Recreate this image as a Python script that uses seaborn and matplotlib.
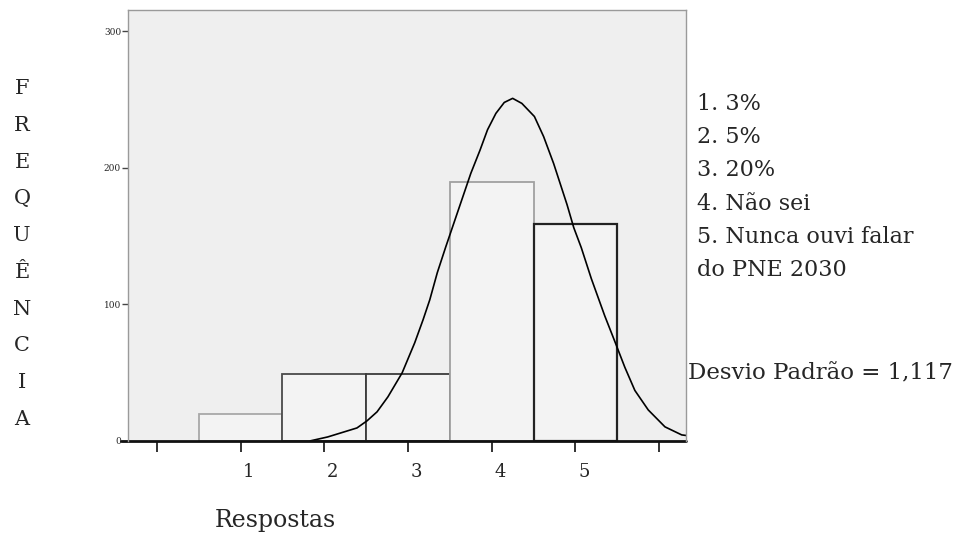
import numpy as np
import pandas as pd
import seaborn as sns
import matplotlib
matplotlib.use('Agg')
import matplotlib.pyplot as plt
from matplotlib.transforms import ScaledTranslation

# respostas (1..5) e frequencias
respostas = [1, 2, 3, 4, 5]
frequencias = [20, 49, 49, 190, 159]

# curva normal desenhada por cima
curva_x = [1.83, 2.04, 2.39, 2.51, 2.63, 2.76, 2.93, 3.08, 3.18, 3.26, 3.35,
           3.45, 3.55, 3.65, 3.75, 3.86, 3.95, 4.05, 4.15, 4.25, 4.36, 4.51,
           4.62, 4.74, 4.90, 4.98, 5.07, 5.19, 5.35, 5.47, 5.59, 5.71, 5.87,
           6.07, 6.27, 6.36]
curva_y = [0, 2.9, 9.5, 14.7, 21.3, 32.3, 49.9, 71.9, 88.8, 103.4, 123.3,
           142, 160, 178, 196, 213, 228, 240, 248, 251, 247.3, 237.7,
           223, 203.2, 173.1, 156.3, 141.6, 118.9, 91.7, 73, 54, 37, 22.7,
           10.3, 4.4, 3.7]

x_ticks = [0, 1, 2, 3, 4, 5, 6]
x_labels = ['', '1', '2', '3', '4', '5', '']
y_ticks = [0, 100, 200, 300]
y_labels = ['0', '100', '200', '300']

legenda = ['1. 3%', '2. 5%', '3. 20%', '4. Não sei',
           '5. Nunca ouvi falar', 'do PNE 2030']
desvio = 'Desvio Padrão = 1,117'
eixo_y = 'FREQUÊNCIA'

sns.set_style('white')
plt.rcParams['font.family'] = ['DejaVu Serif']

fig = plt.figure(figsize=(9.62, 5.43), dpi=100)
ax = fig.add_axes([0.133, 0.188, 0.58, 0.7935])
ax.set_facecolor('#efefef')

df = pd.DataFrame({'resp': respostas, 'freq': frequencias})
sns.histplot(data=df, x='resp', weights='freq', discrete=True, ax=ax,
             color='#f3f3f3', alpha=1, linewidth=1.3)
edge_cols = ['#a8a8a8', '#4a4a4a', '#3a3a3a', '#a0a0a0', '#222222']
for p, c in zip(ax.patches, edge_cols):
    p.set_edgecolor(c)
ax.patches[-1].set_linewidth(1.6)

curva = pd.DataFrame({'x': curva_x, 'y': curva_y})
sns.lineplot(data=curva, x='x', y='y', ax=ax, sort=False, color='black',
             linewidth=1.2)

ax.set_xlim(-0.346, 6.32)
ax.set_ylim(0, 315.7)

ax.set_xticks(x_ticks)
ax.set_xticklabels(x_labels, fontsize=13)
ax.set_yticks(y_ticks)
ax.set_yticklabels(y_labels, fontsize=6.5)
ax.tick_params(axis='x', direction='out', length=8, width=1.3, color='#222222', pad=8,
               bottom=True)
ax.tick_params(axis='y', direction='out', length=4, width=1, color='#444444', pad=1,
               left=True)
for lab in ax.get_xticklabels():
    lab.set_transform(lab.get_transform() + ScaledTranslation(6 / 72, 0, fig.dpi_scale_trans))

for s in ['top', 'left', 'right']:
    ax.spines[s].set_color('#9a9a9a')
    ax.spines[s].set_linewidth(1)
ax.spines['bottom'].set_visible(False)
ax.axhline(0, xmin=-0.012, xmax=1, color='#111111', linewidth=2, clip_on=False)
ax.set_xlabel('')
ax.set_ylabel('')

fig.text(215 / 962, 1 - 520 / 543, 'Respostas', fontsize=17, va='center', ha='left')
fig.text(22 / 962, 1 - 254 / 543, '\n'.join(eixo_y), fontsize=15, ha='center',
         va='center', linespacing=2.18)
fig.text(697 / 962, 1 - 187 / 543, '\n'.join(legenda), fontsize=16, ha='left',
         va='center', linespacing=1.66)
fig.text(688 / 962, 1 - 373 / 543, desvio, fontsize=16.5, ha='left', va='center')

fig.savefig('out.png', dpi=100)
